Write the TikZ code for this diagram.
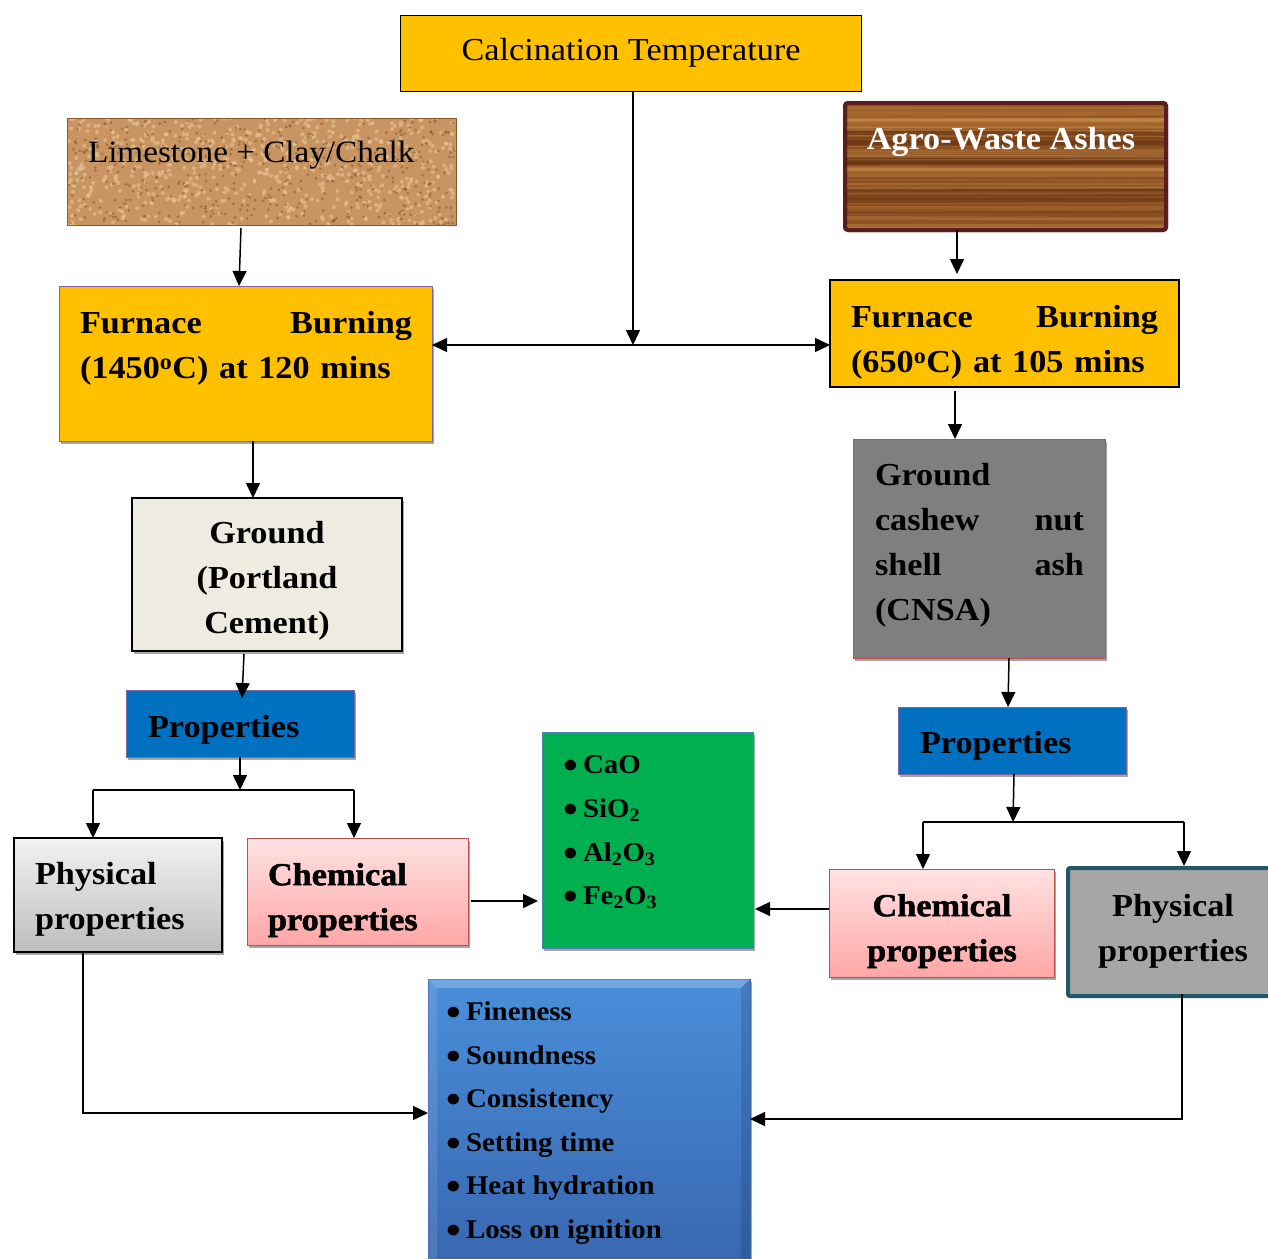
\documentclass[tikz,border=0pt]{standalone}
\usepackage{fontspec}
\usepackage{graphicx}
\setmainfont[FakeStretch=1.07]{Liberation Serif}
\newfontfamily\heavyfont[FakeStretch=1.07, BoldFeatures={FakeBold=1.6}]{Liberation Serif}
\usetikzlibrary{arrows.meta,shadows,calc}
\definecolor{gold}{HTML}{FFC000}
\definecolor{limef}{HTML}{C79462}
\definecolor{limeb}{HTML}{8B5A2B}
\definecolor{limed}{HTML}{7A4520}
\definecolor{limel}{HTML}{EAC594}
\definecolor{woodt}{HTML}{A8682E}
\definecolor{woodb}{HTML}{8E5122}
\definecolor{woodd}{HTML}{5E2C0E}
\definecolor{woodl}{HTML}{C8904E}
\definecolor{agrob}{HTML}{5A1E1E}
\definecolor{purpb}{HTML}{8064A2}
\definecolor{gpcf}{HTML}{EEECE1}
\definecolor{cnsaf}{HTML}{7F7F7F}
\definecolor{redb}{HTML}{C0504D}
\definecolor{propf}{HTML}{0070C0}
\definecolor{grayt}{HTML}{F2F2F2}
\definecolor{grayb}{HTML}{BDBDBD}
\definecolor{pinkt}{HTML}{FFE2E2}
\definecolor{pinkb}{HTML}{FFA6A6}
\definecolor{greenf}{HTML}{00B050}
\definecolor{blueb}{HTML}{4F81BD}
\definecolor{physrf}{HTML}{A6A6A6}
\definecolor{tealb}{HTML}{215868}
\definecolor{bluet}{HTML}{4A8EDA}
\definecolor{bluebot}{HTML}{3766AE}
\newcommand\fbig{\fontsize{32}{45}\selectfont}
\newcommand\fsml{\fontsize{27}{43.6}\selectfont}
\newcommand\bul{\makebox[20pt][l]{\raisebox{-5pt}{\scalebox{1.45}{\textbullet}}}}
\begin{document}
\begin{tikzpicture}[x=1pt,y=-1pt,
  box/.style={draw, rectangle, inner sep=0pt, outer sep=0pt, line width=1.2pt},
  shd/.style={drop shadow={shadow xshift=2pt, shadow yshift=-3pt, opacity=0.35, fill=black}},
  tx/.style={inner sep=0pt, outer sep=0pt, font=\fbig\bfseries},
  txr/.style={inner sep=0pt, outer sep=0pt, font=\fbig},
  ts/.style={inner sep=0pt, outer sep=0pt, font=\fsml\bfseries, align=left},
  arr/.style={-{Triangle[length=15pt,width=14pt]}, line width=1.5pt},
  ln/.style={line width=1.5pt}]
\fill[white] (0,0) rectangle (1268,1258);
\useasboundingbox (0,0) rectangle (1268,1258);

% Calcination temperature
\node[box, fill=gold, line width=1pt, minimum width=461, minimum height=76] (calc) at (630.5,53) {};
\node[txr, anchor=base] (calct) at (631,60) {Calcination Temperature};

% Limestone
\node[box, draw=limeb, fill=limef, line width=1pt, minimum width=389, minimum height=107] (lime) at (261.5,171.5) {};
\begin{scope}
\clip (lime.north west) rectangle (lime.south east);
\pgfmathsetseed{11}
\foreach \i in {1,...,650}{
  \pgfmathsetmacro\px{67+389*rnd}\pgfmathsetmacro\py{118+107*rnd}
  \fill[limel, opacity=0.6] (\px,\py) circle (2);
}
\foreach \i in {1,...,450}{
  \pgfmathsetmacro\px{67+389*rnd}\pgfmathsetmacro\py{118+107*rnd}
  \fill[limed, opacity=0.45] (\px,\py) circle (1.5);
}
\end{scope}
\draw[limeb, line width=1pt] (lime.north west) rectangle (lime.south east);
\node[txr, anchor=base west, font=\fontsize{31}{45}\selectfont] (limet) at (88,162) {Limestone + Clay/Chalk};

% Agro-waste ashes
\node[box, draw=agrob, line width=4pt, rounded corners=3, top color=woodt, bottom color=woodb, minimum width=321, minimum height=127] (agro) at (1005.5,166.5) {};
\begin{scope}
\clip (847,105) rectangle (1164,228);
\pgfmathsetseed{5}
\foreach \i in {1,...,45}{
  \pgfmathsetmacro\py{103+127*rnd}\pgfmathsetmacro\lw{1+4*rnd}\pgfmathsetmacro\op{0.15+0.35*rnd}
  \draw[woodd, line width=\lw, opacity=\op] (845,\py) -- (1166,\py+2*rnd-1);
}
\foreach \i in {1,...,30}{
  \pgfmathsetmacro\py{103+127*rnd}\pgfmathsetmacro\lw{1+3*rnd}\pgfmathsetmacro\op{0.15+0.3*rnd}
  \draw[woodl, line width=\lw, opacity=\op] (845,\py) -- (1166,\py+2*rnd-1);
}
\end{scope}
\draw[agrob, line width=4pt, rounded corners=3] (agro.north west) rectangle (agro.south east);
\node[tx, text=white, anchor=base] (agrot) at (1001,149) {Agro-Waste Ashes};

% Furnace left
\node[box, draw=purpb, fill=gold, line width=1pt, shd, minimum width=373, minimum height=155] (furnL) at (245.5,363.5) {};
\node[tx, anchor=north west, text width=332pt, align=left] (furnLt) at (80,311)
  {\makebox[332pt]{Furnace\hfill Burning}\\(1450\textsuperscript{o}C) at 120 mins};

% Furnace right
\node[box, fill=gold, line width=1.5pt, minimum width=349, minimum height=107] (furnR) at (1004.5,333.5) {};
\node[tx, anchor=north west, text width=307pt, align=left] (furnRt) at (851,305)
  {\makebox[307pt]{Furnace\hfill Burning}\\(650\textsuperscript{o}C) at 105 mins};

% Ground Portland cement
\node[box, fill=gpcf, line width=1.5pt, shd, minimum width=270, minimum height=153] (gpc) at (267,574.5) {};
\node[tx, anchor=north, align=center] (gpct) at (267,521) {Ground\\(Portland\\Cement)};

% CNSA
\node[box, draw=redb, fill=cnsaf, line width=1pt, shd, minimum width=252, minimum height=219] (cnsa) at (979,548.5) {};
\node[tx, anchor=north west, text width=209pt, align=left] (cnsat) at (875,463)
  {Ground\\\makebox[209pt]{cashew\hfill nut}\\\makebox[209pt]{shell\hfill ash}\\(CNSA)};

% Properties
\node[box, draw=purpb, fill=propf, line width=1pt, shd, minimum width=228, minimum height=67] (propL) at (240,723.5) {};
\node[tx, anchor=base west] (propLt) at (148,737) {Properties};
\node[box, draw=purpb, fill=propf, line width=1pt, shd, minimum width=228, minimum height=67] (propR) at (1012,740.5) {};
\node[tx, anchor=base west] (propRt) at (920,753) {Properties};

% Physical left
\node[box, line width=1.5pt, shd, top color=grayt, bottom color=grayb, minimum width=208, minimum height=114] (physL) at (118,895) {};
\node[tx, anchor=north west, align=left] (physLt) at (35,862) {Physical\\properties};

% Chemical left
\node[box, draw=redb, line width=1pt, shd, top color=pinkt, bottom color=pinkb, minimum width=221, minimum height=107] (chemL) at (357.5,891.5) {};
\node[tx, font=\fbig\heavyfont\bfseries, anchor=north west, align=left] (chemLt) at (268,863) {Chemical\\properties};

% Green oxides
\node[box, draw=blueb, fill=greenf, line width=1pt, shd, minimum width=211, minimum height=216] (green) at (647.5,840) {};
\node[ts, anchor=north west] (greent) at (563,756)
  {\bul CaO\\\bul SiO\textsubscript{2}\\\bul Al\textsubscript{2}O\textsubscript{3}\\\bul Fe\textsubscript{2}O\textsubscript{3}};

% Chemical right
\node[box, draw=redb, line width=1pt, shd, top color=pinkt, bottom color=pinkb, minimum width=225, minimum height=108] (chemR) at (941.5,923) {};
\node[tx, font=\fbig\heavyfont\bfseries, anchor=north, align=center] (chemRt) at (942,894) {Chemical\\properties};

% Physical right
\node[box, draw=tealb, fill=physrf, line width=4pt, rounded corners=2, minimum width=222, minimum height=128] (physR) at (1179,932) {};
\node[tx, anchor=north, align=center] (physRt) at (1173,894) {Physical\\properties};

% Blue list
\node[box, draw=bluebot, line width=0.8pt, shd, top color=bluet, bottom color=bluebot, minimum width=322, minimum height=296] (blue) at (589,1127) {};
\fill[white, opacity=0.22] (blue.north west) -- (blue.north east) -- ([xshift=-9pt,yshift=-9pt]blue.north east) -- ([xshift=9pt,yshift=-9pt]blue.north west) -- cycle;
\fill[white, opacity=0.10] (blue.north west) -- ([xshift=9pt,yshift=-9pt]blue.north west) -- ([xshift=9pt]blue.south west) -- (blue.south west) -- cycle;
\fill[black, opacity=0.12] (blue.north east) -- ([xshift=-9pt,yshift=-9pt]blue.north east) -- ([xshift=-9pt]blue.south east) -- (blue.south east) -- cycle;
\node[ts, anchor=north west, font=\fontsize{27}{43.5}\selectfont\bfseries] (bluet) at (446,1002)
  {\bul Fineness\\\bul Soundness\\\bul Consistency\\\bul Setting time\\\bul Heat hydration\\\bul Loss on ignition};

% Connectors
\coordinate (J) at (633,345);
\draw[arr] (calc.south -| J) -- (J);
\draw[arr] (J) -- (furnL.east |- J);
\draw[arr] (J) -- (furnR.west |- J);
\draw[arr] ([xshift=-20.5pt,yshift=-3pt]lime.south) -- ([xshift=-6.5pt]furnL.north);
\draw[arr] ([xshift=-48.5pt]agro.south) -- ([xshift=-47.5pt,yshift=6pt]furnR.north);
\draw[arr] ([xshift=7.5pt]furnL.south) -- ([xshift=-14pt]gpc.north);
\draw[arr] ([xshift=-49.5pt,yshift=-4pt]furnR.south) -- ([xshift=-24pt]cnsa.north);
\draw[arr] ([xshift=-23pt,yshift=-3pt]gpc.south) -- ([xshift=2pt,yshift=-8pt]propL.north);
\draw[arr] ([xshift=30pt]cnsa.south) -- ([xshift=-4pt]propR.north);

\coordinate (SL) at (240,790);
\coordinate (SLl) at (93,790);
\coordinate (SLr) at (354,790);
\draw[arr] (propL.south) -- (SL);
\draw[ln] (SLl) -- (SLr);
\draw[arr] (SLl) -- (physL.north -| SLl);
\draw[arr] (SLr) -- (chemL.north -| SLr);

\coordinate (SR) at (1013,822);
\coordinate (SRl) at (923,822);
\coordinate (SRr) at (1184,822);
\draw[arr] ([xshift=2pt]propR.south) -- (SR);
\draw[ln] (SRl) -- (SRr);
\draw[arr] (SRl) -- (chemR.north -| SRl);
\draw[arr] (SRr) -- ([yshift=2pt]physR.north -| SRr);

\coordinate (CL) at ([xshift=3pt,yshift=-9.5pt]chemL.east);
\coordinate (CR) at ([yshift=14pt]chemR.west);
\draw[arr] (CL) -- ([xshift=-4pt]green.west |- CL);
\draw[arr] (CR) -- ([xshift=2pt]green.east |- CR);
\draw[arr] ([xshift=-35pt]physL.south) |- ([yshift=14pt]blue.west);
\draw[arr] ([xshift=3pt,yshift=2pt]physR.south) |- ([yshift=8pt]blue.east);
\end{tikzpicture}
\end{document}
